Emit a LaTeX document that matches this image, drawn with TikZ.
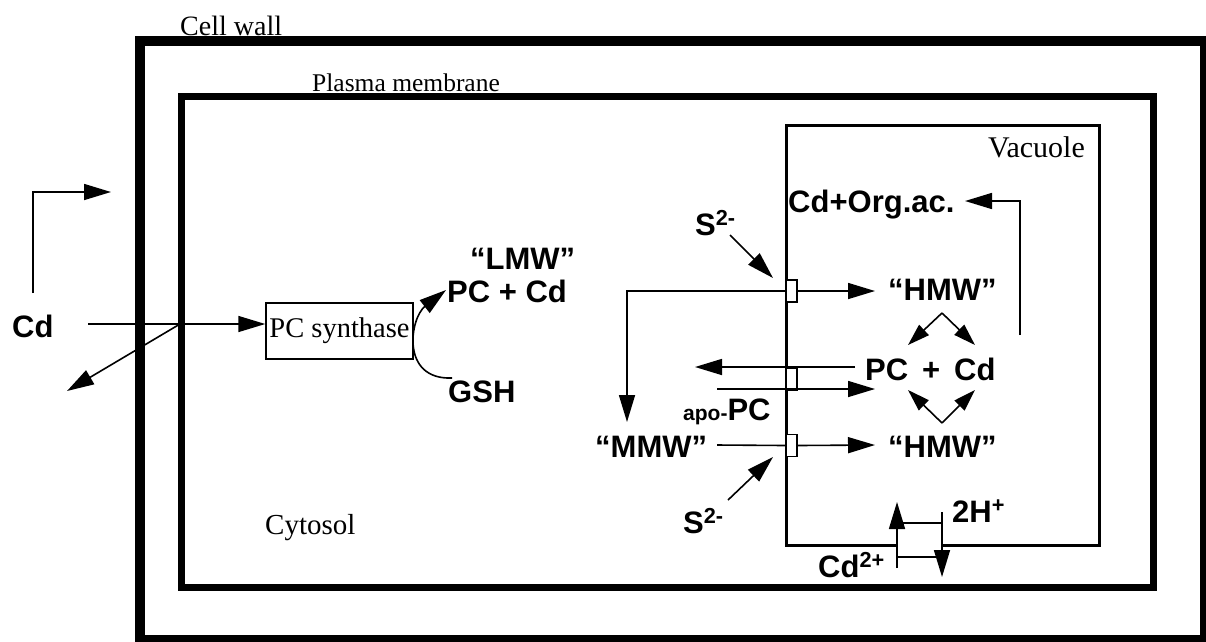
\documentclass[tikz,border=0pt]{standalone}
\usepackage{fontspec}
\setmainfont{Liberation Serif}
\setsansfont{Liberation Sans}
\usetikzlibrary{arrows.meta}
\begin{document}
\begin{tikzpicture}[x=1pt,y=-1pt,
  serif/.style={font=\fontsize{28}{28}\selectfont, inner sep=0pt, anchor=base west},
  bold/.style={font=\sffamily\bfseries\fontsize{31}{31}\selectfont, inner sep=0pt, anchor=base west},
  conn/.style={line width=1.6pt},
  arr/.style={conn, -{Triangle[length=27pt,width=16pt]}},
  sarr/.style={conn, -{Triangle[length=22pt,width=14pt]}},
  pump/.style={draw, fill=white, line width=1.2pt, minimum width=11pt, minimum height=22pt, inner sep=0pt},
]
\useasboundingbox (0,0) rectangle (1206,641);
% walls
\draw[line width=10.5pt] (140,41) rectangle (1205,640);
\draw[line width=7pt] (181,96) rectangle (1153,587);
\draw[line width=3pt, line join=miter] (897,545) -- (786,545) -- (786,125) -- (1099,125) -- (1099,545) -- (942,545);
% serif labels
\node[serif] (cellwall) at (180,35) {Cell wall};
\node[serif, font=\fontsize{25.5}{25.5}\selectfont] (plasma) at (312,91) {Plasma membrane};
\node[serif, font=\fontsize{30}{30}\selectfont] (vacuole) at (988,157) {Vacuole};
\node[serif, font=\fontsize{29}{29}\selectfont] (cytosol) at (265,534) {Cytosol};
\node[draw, fill=white, line width=1.5pt, minimum width=147pt, minimum height=56pt, inner sep=0pt, font=\fontsize{28.5}{28.5}\selectfont] (pcs) at (339.5,331) {PC synthase};
% bold labels
\node[bold] (cd) at (12,337) {Cd};
\node[bold] (lmw) at (470,269) {“LMW”};
\node[bold] (pccd1) at (447,302) {PC + Cd};
\node[bold] (gsh) at (448,402) {GSH};
\node[bold] (s1) at (695,235) {S\textsuperscript{2-}};
\node[bold] (org) at (788,212) {Cd+Org.ac.};
\node[bold] (hmw1) at (888,300) {“HMW”};
\node[bold] (pccd2) at (865,380) {PC\hspace{0.45em}+\hspace{0.45em}Cd};
\node[bold] (apo) at (683,420) {{\fontsize{21}{21}\selectfont apo-}PC};
\node[bold] (mmw) at (595,457) {“MMW”};
\node[bold] (hmw2) at (888,457) {“HMW”};
\node[bold] (s2) at (683,533) {S\textsuperscript{2-}};
\node[bold] (hh) at (952,522) {2H\textsuperscript{+}};
\node[bold] (cdtwo) at (818,577) {Cd\textsuperscript{2+}};
% pumps
\node[pump] (p1) at (791.5,291) {};
\node[pump] (p2) at (791.5,379) {};
\node[pump] (p3) at (791.5,445.5) {};
% coordinates
\coordinate (cdstart) at (88,324);
\coordinate (cdcross) at (180,324);
\coordinate (cdout) at (67,391);
\coordinate (bendA) at (33,293);
\coordinate (bendB) at (111,192);
\coordinate (gshend) at (452,378);
\coordinate (pcend) at (446,290);
\coordinate (s1a) at (730,235);
\coordinate (s1b) at (773,278);
\coordinate (s2a) at (728,500);
\coordinate (s2b) at (773,457);
\coordinate (hmw1tip) at (875,291);
\coordinate (mmwtip) at (627,422);
\coordinate (pcleft) at (855,367);
\coordinate (pclefttip) at (695,367);
\coordinate (apostart) at (717,389);
\coordinate (apotip) at (875,389);
\coordinate (mmwend) at (717,445);
\coordinate (hmw2tip) at (875,445);
\coordinate (orgstart) at (1020,335);
\coordinate (orgtip) at (965,201);
\coordinate (dtop) at (942,313);
\coordinate (dtl) at (908,345);
\coordinate (dtr) at (975,345);
\coordinate (dbot) at (942,423);
\coordinate (dbl) at (908,390);
\coordinate (dbr) at (975,390);
\coordinate (exA) at (897,568);
\coordinate (exAt) at (897,502);
\coordinate (exB) at (942,512);
\coordinate (exBt) at (942,577);
% connectors
\draw[arr] (bendA) |- (bendB);
\draw[arr] (cdstart) -- (cdstart -| pcs.west);
\draw[arr] (cdcross) -- (cdout);
\draw[arr] (gshend) .. controls (400,380) and (410,318) .. (pcend);
\draw[arr] (s1a) -- (s1b);
\draw[arr] (s2a) -- (s2b);
\draw[arr] (p1.east) -- (hmw1tip);
\draw[arr] (p1.west) -| (mmwtip);
\draw[arr] (pcleft) -- (pclefttip);
\draw[arr] (apostart) -- (apotip);
\draw[conn] (mmwend) -- (p3.west);
\draw[arr] (p3.east) -- (hmw2tip);
\draw[arr] (orgstart) |- (orgtip);
\draw[sarr] (dtop) -- (dtl);
\draw[sarr] (dtop) -- (dtr);
\draw[sarr] (dbot) -- (dbl);
\draw[sarr] (dbot) -- (dbr);
\draw[arr] (exA) -- (exAt);
\draw[arr] (exB) -- (exBt);
\draw[conn] (exA |- 0,523) -- (exB |- 0,523);
\draw[conn] (exA |- 0,557) -- (exB |- 0,557);
\end{tikzpicture}
\end{document}
